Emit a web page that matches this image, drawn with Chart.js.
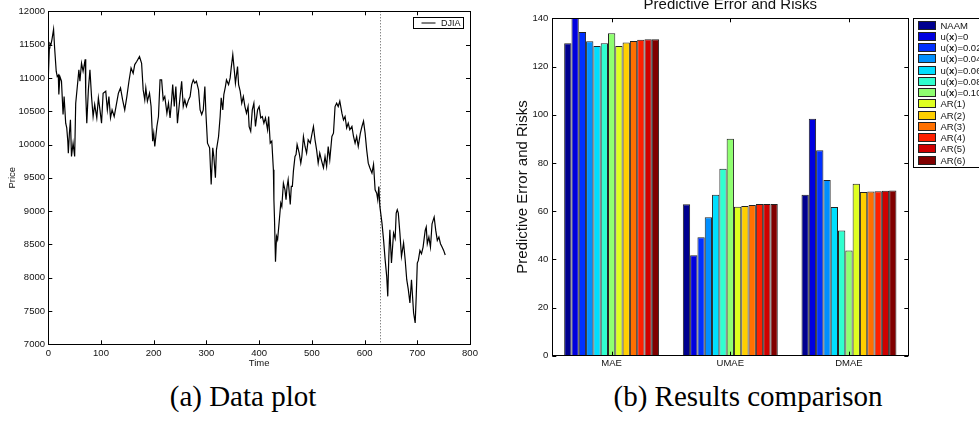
<!DOCTYPE html>
<html>
<head>
<meta charset="utf-8">
<title>DJIA and predictive error</title>
<script src="https://cdn.jsdelivr.net/npm/chart.js@4.4.0/dist/chart.umd.min.js"></script>
<style>
  body { margin: 0; background: #fff; width: 979px; height: 446px; overflow: hidden; position: relative; }
  .panel { position: absolute; }
  #panelA { left: 0; top: 0; width: 490px; height: 380px; }
  #panelB { left: 490px; top: -8px; width: 489px; height: 388px; }
  .caption { position: absolute; top: 382px; font-family: 'Liberation Serif', 'Times New Roman', serif; font-size: 29px; line-height: 29px; color: #000; text-align: center; white-space: nowrap; }
</style>
</head>
<body>
<div class="panel" id="panelA"><canvas id="djiaChart"></canvas></div>
<div class="panel" id="panelB"><canvas id="errorChart"></canvas></div>
<div class="caption" style="left:93px;width:300px">(a) Data plot</div>
<div class="caption" style="left:598px;width:300px">(b) Results comparison</div>
<script>
// DJIA closing price, trading day index vs price
const djiaTime = [
  0, 2, 3, 5, 7, 10, 12, 15, 17, 19, 20, 22, 25, 28, 30, 33, 35, 37, 38, 40,
  42, 44, 47, 50, 52, 56, 58, 60, 63, 66, 70, 71, 73, 76, 79, 82, 85, 88, 92, 95,
  98, 101, 104, 109, 112, 115, 118, 121, 125, 128, 133, 137, 141, 145, 149, 153, 157, 161, 164, 168,
  173, 177, 180, 183, 185, 188, 192, 195, 198, 200, 202, 206, 209, 212, 215, 218, 221, 225, 228, 231,
  234, 236, 239, 242, 245, 250, 253, 256, 259, 262, 266, 269, 272, 275, 278, 281, 285, 288, 291, 294,
  297, 299, 302, 306, 309, 312, 314, 317, 319, 323, 326, 328, 331, 333, 336, 338, 342, 345, 347, 350,
  353, 355, 359, 361, 364, 367, 370, 373, 376, 379, 381, 384, 387, 390, 393, 397, 400, 403, 406, 409,
  412, 416, 418, 421, 424, 427, 428, 429, 431, 433, 435, 438, 441, 443, 446, 449, 451, 453, 455, 459,
  461, 463, 465, 468, 470, 472, 476, 479, 481, 484, 487, 490, 493, 497, 500, 503, 506, 509, 512, 515,
  518, 522, 525, 528, 531, 534, 538, 541, 544, 547, 550, 553, 557, 560, 563, 566, 569, 572, 576, 579,
  582, 585, 588, 592, 595, 598, 601, 604, 607, 610, 614, 617, 620, 623, 625, 627, 629, 633, 636, 639,
  642, 644, 646, 648, 651, 655, 658, 660, 662, 664, 667, 670, 674, 677, 680, 683, 686, 689, 693, 696,
  698, 700, 702, 705, 708, 711, 715, 717, 719, 722, 725, 728, 732, 735, 738, 741, 744, 747, 750, 753
];
const djiaPrice = [
  11000, 11450, 11520, 11500, 11580, 11730, 11450, 11100, 11020, 11040, 10750, 11020, 10950, 10450, 10720, 10320, 10250, 10050, 9870, 10170,
  10370, 9820, 10020, 9820, 10620, 10950, 11120, 10950, 11220, 11100, 11280, 10770, 10320, 10820, 11120, 10720, 10420, 10600, 10400, 10700,
  10520, 10320, 10770, 10800, 10520, 10720, 10400, 10520, 10420, 10550, 10770, 10850, 10670, 10520, 10720, 10950, 11150, 11070, 11200, 11250,
  11320, 11220, 10820, 10670, 10850, 10650, 10770, 10570, 10050, 10170, 9970, 10270, 10420, 10970, 10970, 10670, 10720, 10470, 10620, 10400,
  10670, 10900, 10570, 10870, 10320, 10720, 10950, 10570, 10670, 10570, 10670, 10720, 10900, 10970, 10920, 10950, 10820, 10520, 10450, 10520,
  10870, 10470, 10020, 9950, 9400, 9950, 9820, 9500, 9920, 10120, 10420, 10700, 10520, 10750, 10870, 10970, 10900, 11000, 11150, 11350,
  11100, 10920, 11170, 10900, 10800, 10620, 10720, 10570, 10470, 10570, 10270, 10200, 10520, 10620, 10270, 10520, 10570, 10400, 10420, 10320,
  10400, 10220, 10420, 10020, 10050, 9620, 9170, 8920, 8240, 8620, 8570, 8840, 9120, 9070, 9420, 9320, 9170, 9370, 9470, 9100,
  9370, 9370, 9600, 9820, 9850, 10000, 9870, 9720, 9820, 10120, 9970, 9870, 10070, 10020, 10150, 10270, 10070, 9920, 9720, 9870,
  9770, 9650, 9820, 9670, 9970, 9770, 10120, 10170, 10570, 10620, 10570, 10650, 10470, 10370, 10420, 10250, 10320, 10220, 10270, 10120,
  10020, 10120, 9970, 10170, 10270, 10350, 10170, 9920, 9720, 9650, 9570, 9700, 9320, 9270, 9170, 9370, 9070, 8820, 8570, 8270,
  8020, 7720, 8320, 8720, 8220, 8670, 8590, 8970, 9020, 8970, 8670, 8320, 8520, 8270, 7970, 7820, 7620, 7970, 7470, 7320,
  7720, 8220, 8260, 8410, 8360, 8460, 8710, 8760, 8510, 8610, 8460, 8810, 8910, 8710, 8560, 8610, 8510, 8460, 8410, 8340
];
// training / test split
const splitTime = 630;

// error measures per model
const metrics = ['MAE', 'UMAE', 'DMAE'];
const models = ['NAAM', 'u(x)=0', 'u(x)=0.02', 'u(x)=0.04', 'u(x)=0.06', 'u(x)=0.08', 'u(x)=0.10',
  'AR(1)', 'AR(2)', 'AR(3)', 'AR(4)', 'AR(5)', 'AR(6)'];
const maeValues  = [129.6, 141, 134.3, 130.5, 128.5, 129.6, 133.8, 128.5, 130.0, 130.6, 131.1, 131.3, 131.3];
const umaeValues = [62.8, 41.7, 49.1, 57.5, 66.8, 77.6, 90.0, 61.8, 62.1, 62.5, 62.9, 62.9, 62.9];
const dmaeValues = [66.8, 98.3, 85.2, 72.9, 61.7, 52.0, 43.7, 71.4, 67.9, 68.1, 68.2, 68.4, 68.5];

// jet colormap, one entry per model
const modelColors = ['#00008f', '#0000df', '#0030ff', '#008fff', '#00dfff', '#30ffcf', '#8fff70',
  '#dfff20', '#ffcf00', '#ff7000', '#ff2000', '#cf0000', '#800000'];

Chart.defaults.font.family = "'Liberation Sans', Arial, sans-serif";
Chart.defaults.color = '#111';

const plainNumber = v => String(v);

// box around the axes with inward ticks on all four sides
const boxTicks = {
  id: 'boxTicks',
  afterDatasetsDraw(chart) {
    const {ctx, chartArea: a, scales} = chart;
    const len = 4;
    ctx.save();
    ctx.strokeStyle = '#000';
    ctx.lineWidth = 1;
    ctx.beginPath();
    scales.x.ticks.forEach((t, i) => {
      const px = Math.round(scales.x.getPixelForTick(i)) + 0.5;
      ctx.moveTo(px, a.bottom); ctx.lineTo(px, a.bottom - len);
      ctx.moveTo(px, a.top); ctx.lineTo(px, a.top + len);
    });
    scales.y.ticks.forEach((t, i) => {
      const py = Math.round(scales.y.getPixelForTick(i)) + 0.5;
      ctx.moveTo(a.left, py); ctx.lineTo(a.left + len, py);
      ctx.moveTo(a.right, py); ctx.lineTo(a.right - len, py);
    });
    ctx.stroke();
    ctx.strokeRect(Math.round(a.left) + 0.5, Math.round(a.top) + 0.5, Math.round(a.width), Math.round(a.height));
    ctx.restore();
  }
};

// dotted line marking the split point
const splitLine = {
  id: 'splitLine',
  beforeDatasetsDraw(chart) {
    const {ctx, chartArea: a, scales} = chart;
    const px = Math.round(scales.x.getPixelForValue(splitTime)) + 0.5;
    ctx.save();
    ctx.strokeStyle = '#555';
    ctx.lineWidth = 1;
    ctx.setLineDash([1, 2]);
    ctx.beginPath();
    ctx.moveTo(px, a.top);
    ctx.lineTo(px, a.bottom);
    ctx.stroke();
    ctx.restore();
  }
};

// small boxed legend in the top right corner
const lineLegend = {
  id: 'lineLegend',
  afterDraw(chart) {
    const {ctx, chartArea: a} = chart;
    const ds = chart.data.datasets[0];
    const x = Math.round(a.right - 57) + 0.5, y = Math.round(a.top + 6) + 0.5;
    ctx.save();
    ctx.fillStyle = '#fff';
    ctx.fillRect(x, y, 50, 11);
    ctx.strokeStyle = '#000';
    ctx.lineWidth = 1;
    ctx.strokeRect(x, y, 50, 11);
    ctx.beginPath();
    ctx.moveTo(x + 8, y + 5.5);
    ctx.lineTo(x + 22, y + 5.5);
    ctx.stroke();
    ctx.fillStyle = '#111';
    ctx.font = "9px 'Liberation Sans', Arial, sans-serif";
    ctx.textBaseline = 'middle';
    ctx.fillText(ds.label, x + 27.5, y + 6);
    ctx.restore();
  }
};

// legend to the right of the bars, with a bold x in u(x)
function drawModelLabel(ctx, text, x, y) {
  text.split(/(x)/).forEach(part => {
    if (!part) return;
    ctx.font = (part === 'x' ? 'bold ' : '') + "9.5px 'Liberation Sans', Arial, sans-serif";
    ctx.fillText(part, x, y);
    x += ctx.measureText(part).width;
  });
}

const modelLegend = {
  id: 'modelLegend',
  afterDraw(chart) {
    const {ctx, chartArea: a} = chart;
    const rowH = 11.25;
    const x0 = Math.round(a.right + 5) + 0.5, y0 = Math.round(a.top) + 0.5;
    const n = chart.data.datasets.length;
    const h = Math.round(rowH * n + 3);
    ctx.save();
    ctx.fillStyle = '#fff';
    ctx.fillRect(x0, y0, 120, h);
    ctx.strokeStyle = '#000';
    ctx.lineWidth = 1;
    ctx.strokeRect(x0, y0, 120, h);
    ctx.textBaseline = 'middle';
    chart.data.datasets.forEach((ds, i) => {
      const y = Math.round(y0 + 2 + i * rowH) + 0.5;
      ctx.fillStyle = ds.backgroundColor;
      ctx.fillRect(x0 + 5, y, 17, 8);
      ctx.strokeStyle = '#222';
      ctx.strokeRect(x0 + 5, y, 17, 8);
      ctx.fillStyle = '#111';
      drawModelLabel(ctx, ds.label, x0 + 27, y + 4.5);
    });
    ctx.restore();
  }
};

new Chart(document.getElementById('djiaChart'), {
  type: 'line',
  data: {
    datasets: [{
      label: 'DJIA',
      data: djiaTime.map((t, i) => ({x: t, y: djiaPrice[i]})),
      borderColor: '#000',
      borderWidth: 1.2,
      pointRadius: 0,
      tension: 0
    }]
  },
  options: {
    animation: false,
    responsive: true,
    maintainAspectRatio: false,
    layout: {padding: {top: 11.3, right: 20, left: 0, bottom: 0}},
    plugins: {legend: {display: false}, tooltip: {enabled: false}},
    scales: {
      x: {
        type: 'linear', min: 0, max: 800,
        ticks: {stepSize: 100, padding: 3, maxRotation: 0, autoSkip: false, font: {size: 9.5}, callback: plainNumber},
        grid: {display: false, drawTicks: false},
        border: {display: false},
        title: {display: true, text: 'Time', font: {size: 9.5}, padding: {top: 0, bottom: 10.8}},
        afterFit(s) { s.height = 35.7; }
      },
      y: {
        type: 'linear', min: 7000, max: 12000,
        ticks: {stepSize: 500, padding: 3.3, font: {size: 9.5}, callback: plainNumber},
        grid: {display: false, drawTicks: false},
        border: {display: false},
        title: {display: true, text: 'Price', font: {size: 9.5}, padding: {top: 6.3, bottom: 0}},
        afterFit(s) { s.width = 48.3; }
      }
    }
  },
  plugins: [splitLine, boxTicks, lineLegend]
});

new Chart(document.getElementById('errorChart'), {
  type: 'bar',
  data: {
    labels: metrics,
    datasets: models.map((m, i) => ({
      label: m,
      data: [maeValues[i], umaeValues[i], dmaeValues[i]],
      backgroundColor: modelColors[i],
      borderColor: '#222',
      borderWidth: 1,
      clip: 0
    }))
  },
  options: {
    animation: false,
    responsive: true,
    maintainAspectRatio: false,
    datasets: {bar: {categoryPercentage: 0.8, barPercentage: 1}},
    layout: {padding: {top: 0, right: 70.7, left: 0, bottom: 0}},
    plugins: {
      legend: {display: false},
      tooltip: {enabled: false},
      title: {
        display: true, text: 'Predictive Error and Risks', fullSize: false,
        color: '#111', font: {size: 15, weight: 'normal'}, padding: {top: 4, bottom: 4.3}
      }
    },
    scales: {
      x: {
        ticks: {padding: 2, font: {size: 9.5}},
        grid: {display: false, drawTicks: false},
        border: {display: false},
        afterFit(s) { s.height = 24.3; }
      },
      y: {
        min: 0, max: 140,
        ticks: {stepSize: 20, padding: 4, font: {size: 9.5}, callback: plainNumber},
        grid: {display: false, drawTicks: false},
        border: {display: false},
        title: {display: true, text: 'Predictive Error and Risks', font: {size: 15}, padding: {top: 24.3, bottom: 0}},
        afterFit(s) { s.width = 62.3; }
      }
    }
  },
  plugins: [boxTicks, modelLegend]
});
</script>
</body>
</html>
